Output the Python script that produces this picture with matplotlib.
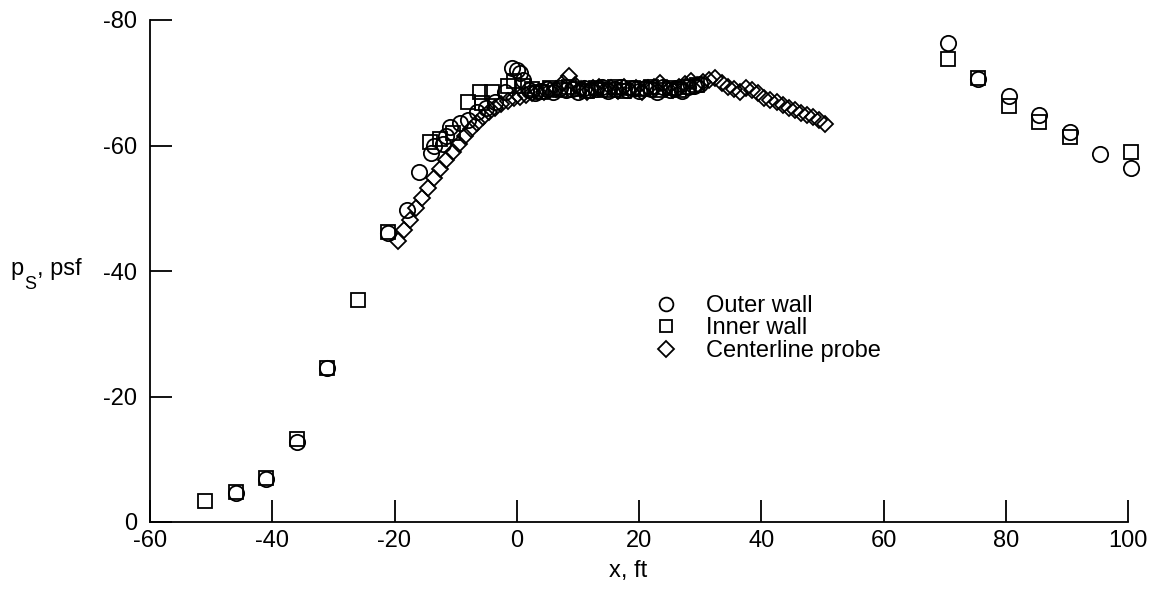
import matplotlib
matplotlib.use('Agg')
import matplotlib.pyplot as plt

plt.rcParams['font.family'] = ['Liberation Sans', 'DejaVu Sans']
plt.rcParams['axes.unicode_minus'] = False

# ---------------- data ----------------
outer_x = [-46, -41, -36, -31, -21, -18, -16, -14, -13.5, -12, -11.5, -11, -9.3, -8, -6.5,
           -5, -3.5, -2, -0.8, 0, 0.6, 1, 2, 3, 4,
           5, 6, 7, 8, 9, 10, 11, 12, 13, 14, 15, 16, 17, 18, 19, 20, 21, 22, 23, 24, 25,
           26, 27, 28, 29, 30,
           70.5, 75.5, 80.5, 85.5, 90.5, 95.5, 100.5]
outer_y = [-4.6, -6.8, -12.8, -24.5, -46.0, -49.8, -55.8, -58.8, -60.0, -60.3, -61.5, -63.0, -63.6, -64.0, -65.3,
           -66.0, -67.0, -68.5, -72.4, -72.0, -71.5, -70.5, -68.8, -68.3, -68.7,
           -69.0, -68.5, -69.2, -68.8, -69.0, -68.6, -69.2, -68.8, -69.0, -69.3, -68.7, -69.0, -69.3, -68.8,
           -69.1, -68.7, -69.2, -69.0, -68.6, -69.3, -68.9, -69.1, -68.7, -69.3, -69.5, -69.8,
           -76.3, -70.6, -67.9, -64.9, -62.1, -58.7, -56.4]

inner_x = [-51, -46, -41, -36, -31, -26, -21, -14.2, -12.5, -10.5, -8, -6, -5.7, -4, -1.5,
           -0.5, 1, 2.5, 4, 5.5, 7, 8.5, 10, 11.5, 13, 14.5, 16, 17.5, 19, 20.5, 22, 23.5, 25,
           26.5, 28, 29.5,
           70.5, 75.5, 80.5, 85.5, 90.5, 100.5]
inner_y = [-3.4, -4.8, -7.0, -13.3, -24.6, -35.4, -46.2, -60.6, -61.0, -62.0, -67.0, -68.5, -66.8, -68.5, -69.5,
           -70.3, -69.5, -69.0, -68.6, -69.2, -68.8, -69.3, -69.0, -68.7, -69.2, -68.9, -69.3, -68.7, -69.1,
           -69.0, -69.3, -68.8, -69.2, -68.9, -69.4, -69.6,
           -73.8, -70.7, -66.3, -63.8, -61.4, -58.9]

probe_x = [-19.5, -18.5, -17.5, -16.5, -15.5, -14.5, -13.5, -12.5, -11.5, -10.5, -9.5, -8.5, -7.5, -6.5,
           -5.5, -4.5, -3.5, -2.5, -1.5, -0.5, 0.5, 1.5, 2.5, 3.5, 4.5, 5.5, 6.5, 7.5, 8.5, 9.5, 10.5,
           11.5, 12.5, 13.5, 14.5, 15.5, 16.5, 17.5, 18.5, 19.5, 20.5, 21.5, 22.5, 23.5, 24.5, 25.5,
           26.5, 27.5, 28.5, 29.5, 30.5, 31.5, 32.5, 33.5, 34.5, 35.5, 36.5, 37.5, 38.5, 39.5, 40.5,
           41.5, 42.5, 43.5, 44.5, 45.5, 46.5, 47.5, 48.5, 49.5, 50.5]
probe_y = [-44.8, -46.5, -48.2, -50.0, -51.7, -53.3, -54.8, -56.3, -57.7, -59.0, -60.3, -61.5, -62.6, -63.6,
           -64.5, -65.3, -66.0, -66.6, -67.1, -67.5, -67.8, -68.1, -68.3, -68.5, -68.6, -68.8, -69.0, -70.0,
           -71.0, -69.6, -69.0, -68.6, -69.1, -69.4, -68.8, -69.2, -68.7, -69.3, -68.9, -69.2, -68.6, -69.1,
           -69.4, -70.0, -69.2, -68.8, -69.3, -69.8, -70.2, -69.6, -70.1, -70.5, -70.8, -70.0, -69.4, -69.0,
           -68.6, -69.2, -68.8, -68.3, -67.6, -67.2, -66.9, -66.5, -66.0, -65.6, -65.2, -64.9, -64.5, -64.1,
           -63.4]

labels = ['Outer wall', 'Inner wall', 'Centerline probe']
x_ticks = [-60, -40, -20, 0, 20, 40, 60, 80, 100]
y_ticks = [0, -20, -40, -60, -80]

# ---------------- figure ----------------
W, H = 1161, 595
fig = plt.figure(figsize=(W / 100, H / 100), dpi=100)
ax = fig.add_axes([150 / W, 73 / H, 978 / W, 502 / H])

mkw = dict(linestyle='none', mfc='none', mec='black', mew=1.3, clip_on=False)
h1, = ax.plot(outer_x, outer_y, marker='o', markersize=11, label=labels[0], **mkw)
h2, = ax.plot(inner_x, inner_y, marker='s', markersize=9.5, label=labels[1], **mkw)
h3, = ax.plot(probe_x, probe_y, marker='D', markersize=8.6, label=labels[2], **mkw)

ax.set_xlim(-60, 100)
ax.set_ylim(0, -80)
ax.set_xticks(x_ticks)
ax.set_yticks(y_ticks)
ax.set_xticklabels([str(t) for t in x_ticks])
ax.set_yticklabels([str(t) for t in y_ticks])

for s in ['top', 'right']:
    ax.spines[s].set_visible(False)
for s in ['left', 'bottom']:
    ax.spines[s].set_linewidth(1.3)

ax.tick_params(axis='both', direction='in', length=16, width=1.3, labelsize=17)
ax.tick_params(axis='y', pad=9)
ax.tick_params(axis='x', pad=6)

ax.set_xlabel('x, ft', fontsize=17, labelpad=5)
ax.xaxis.set_label_coords((628 - 150) / 978, -0.075)

# y label: p with subscript S, then ", psf"
fs = 17
yb = 1 - 275 / H
fig.text(10 / W, yb, 'p', fontsize=fs, ha='left', va='baseline')
fig.text(24 / W, yb - 1 / H, 'S', fontsize=13, ha='left', va='top')
fig.text(37 / W, yb, ', psf', fontsize=fs, ha='left', va='baseline')

leg = ax.legend(handles=[h1, h2, h3], loc='upper left',
                bbox_to_anchor=(654 / W, 1 - 295 / H), bbox_transform=fig.transFigure,
                frameon=False, fontsize=17, handlelength=1.0, handletextpad=1.2,
                labelspacing=0.02, borderpad=0, borderaxespad=0, markerscale=0.9)

fig.savefig('out.png', dpi=100)
